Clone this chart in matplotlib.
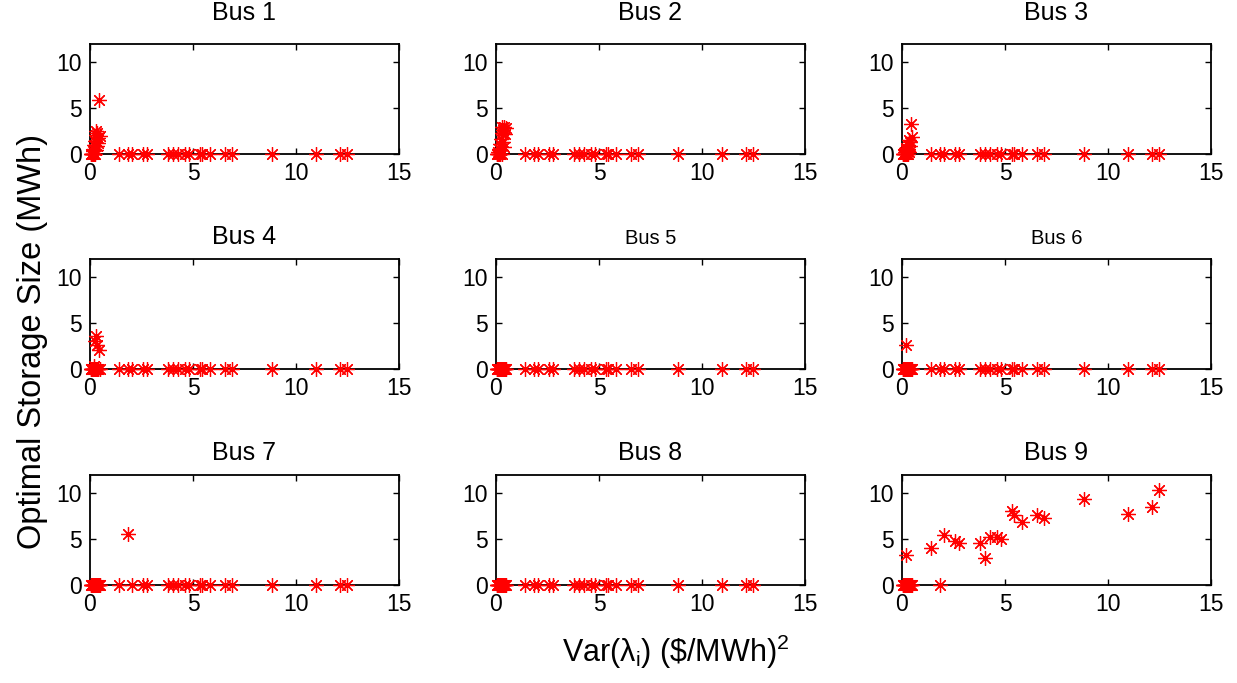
import matplotlib
matplotlib.use("Agg")
import matplotlib.pyplot as plt

plt.rcParams['font.family'] = ['Liberation Sans', 'DejaVu Sans']
plt.rcParams['mathtext.fontset'] = 'custom'
plt.rcParams['mathtext.rm'] = 'Liberation Sans'
plt.rcParams['mathtext.it'] = 'Liberation Sans:italic'

# price variance per sample (shared by all buses)
x_small = [0.03, 0.06, 0.09, 0.11, 0.13, 0.15, 0.17, 0.19, 0.21, 0.23,
           0.25, 0.27, 0.29, 0.31, 0.33, 0.35, 0.38, 0.41, 0.44, 0.48]
x_large = [1.41, 1.86, 2.06, 2.56, 2.76, 3.78, 4.05, 4.26, 4.62, 4.81,
           5.32, 5.43, 5.83, 6.56, 6.89, 8.83, 10.97, 12.16, 12.48]
var_lambda = x_small + x_large

zeros_large = [0] * len(x_large)

bus1 = [0, 0, 0, 0, 0.3, 0, 0.6, 0, 1.0, 0, 1.4, 2.1, 0.4, 2.5, 0.9, 2.3,
        1.7, 1.2, 5.9, 2.0] + zeros_large
bus2 = [0, 0, 0, 0.2, 0, 0.5, 0, 1.1, 0, 1.6, 0.4, 2.3, 0, 2.9, 1.3, 2.6,
        0.8, 3.0, 2.2, 2.8] + zeros_large
bus3 = [0, 0, 0, 0, 0.2, 0, 0.4, 0, 0.7, 0, 0.3, 1.0, 0, 0.5, 1.5, 0.2,
        0.9, 1.3, 3.3, 1.9] + zeros_large
bus4 = [0, 0, 0, 0, 0, 0, 0, 0.3, 0, 0, 3.1, 0, 0, 3.6, 0, 2.6, 0, 0,
        2.1, 0] + zeros_large
bus5 = [0] * 20 + zeros_large
bus6 = [0, 0, 0, 0, 0, 0, 0, 2.6, 0, 0, 0, 0, 0, 0, 0, 0, 0, 0,
        0, 0] + zeros_large
bus7 = [0] * 20 + [0, 5.6, 0, 0, 0, 0, 0, 0, 0, 0, 0, 0, 0, 0, 0, 0, 0,
                   0, 0]
bus8 = [0] * 20 + zeros_large
bus9 = [0, 0, 0, 0, 0, 0, 0, 3.3, 0, 0, 0, 0, 0, 0, 0, 0, 0, 0, 0, 0] + \
    [4.0, 0, 5.5, 4.8, 4.6, 4.6, 3.0, 5.2, 5.2, 5.0,
     8.1, 7.6, 6.9, 7.6, 7.3, 9.35, 7.8, 8.55, 10.35]

storage = [bus1, bus2, bus3, bus4, bus5, bus6, bus7, bus8, bus9]
titles = ['Bus %d' % (i + 1) for i in range(9)]
title_sizes = [18, 18, 18, 18, 14.5, 14.5, 18, 18, 18]

fig = plt.figure(figsize=(12.37, 6.83), dpi=100)
W, H = 1237., 683.
lefts = [90, 496, 902]
bottoms = [154, 369, 585]
title_pads = [17, 11, 11]
for k in range(9):
    r, c = divmod(k, 3)
    ax = fig.add_axes([lefts[c] / W, 1 - bottoms[r] / H, 309 / W, 110 / H])
    ax.plot(var_lambda, storage[k], ls='none', marker=(8, 2, 0),
            ms=10.5, mew=0.9, color='red', clip_on=False, zorder=3)
    ax.set_xlim(0, 15)
    ax.set_ylim(0, 12)
    ax.set_xticks([0, 5, 10, 15])
    ax.set_yticks([0, 5, 10])
    ax.tick_params(direction='in', top=True, right=True, length=4,
                   width=1, labelsize=16.5, pad=6)
    for s in ax.spines.values():
        s.set_linewidth(1.3)
    ax.set_title(titles[k], fontsize=title_sizes[k], pad=title_pads[r])

fig.text(33 / W, 0.5, 'Optimal Storage Size (MWh)', rotation=90,
         ha='center', va='center', fontsize=23.5)
fig.text(0.546, 1 - 652 / H, r'Var($\mathrm{\lambda}_\mathrm{i}$) (\$/MWh)$^\mathrm{2}$',
         ha='center', va='center', fontsize=22)

fig.savefig('out.png', dpi=100)
